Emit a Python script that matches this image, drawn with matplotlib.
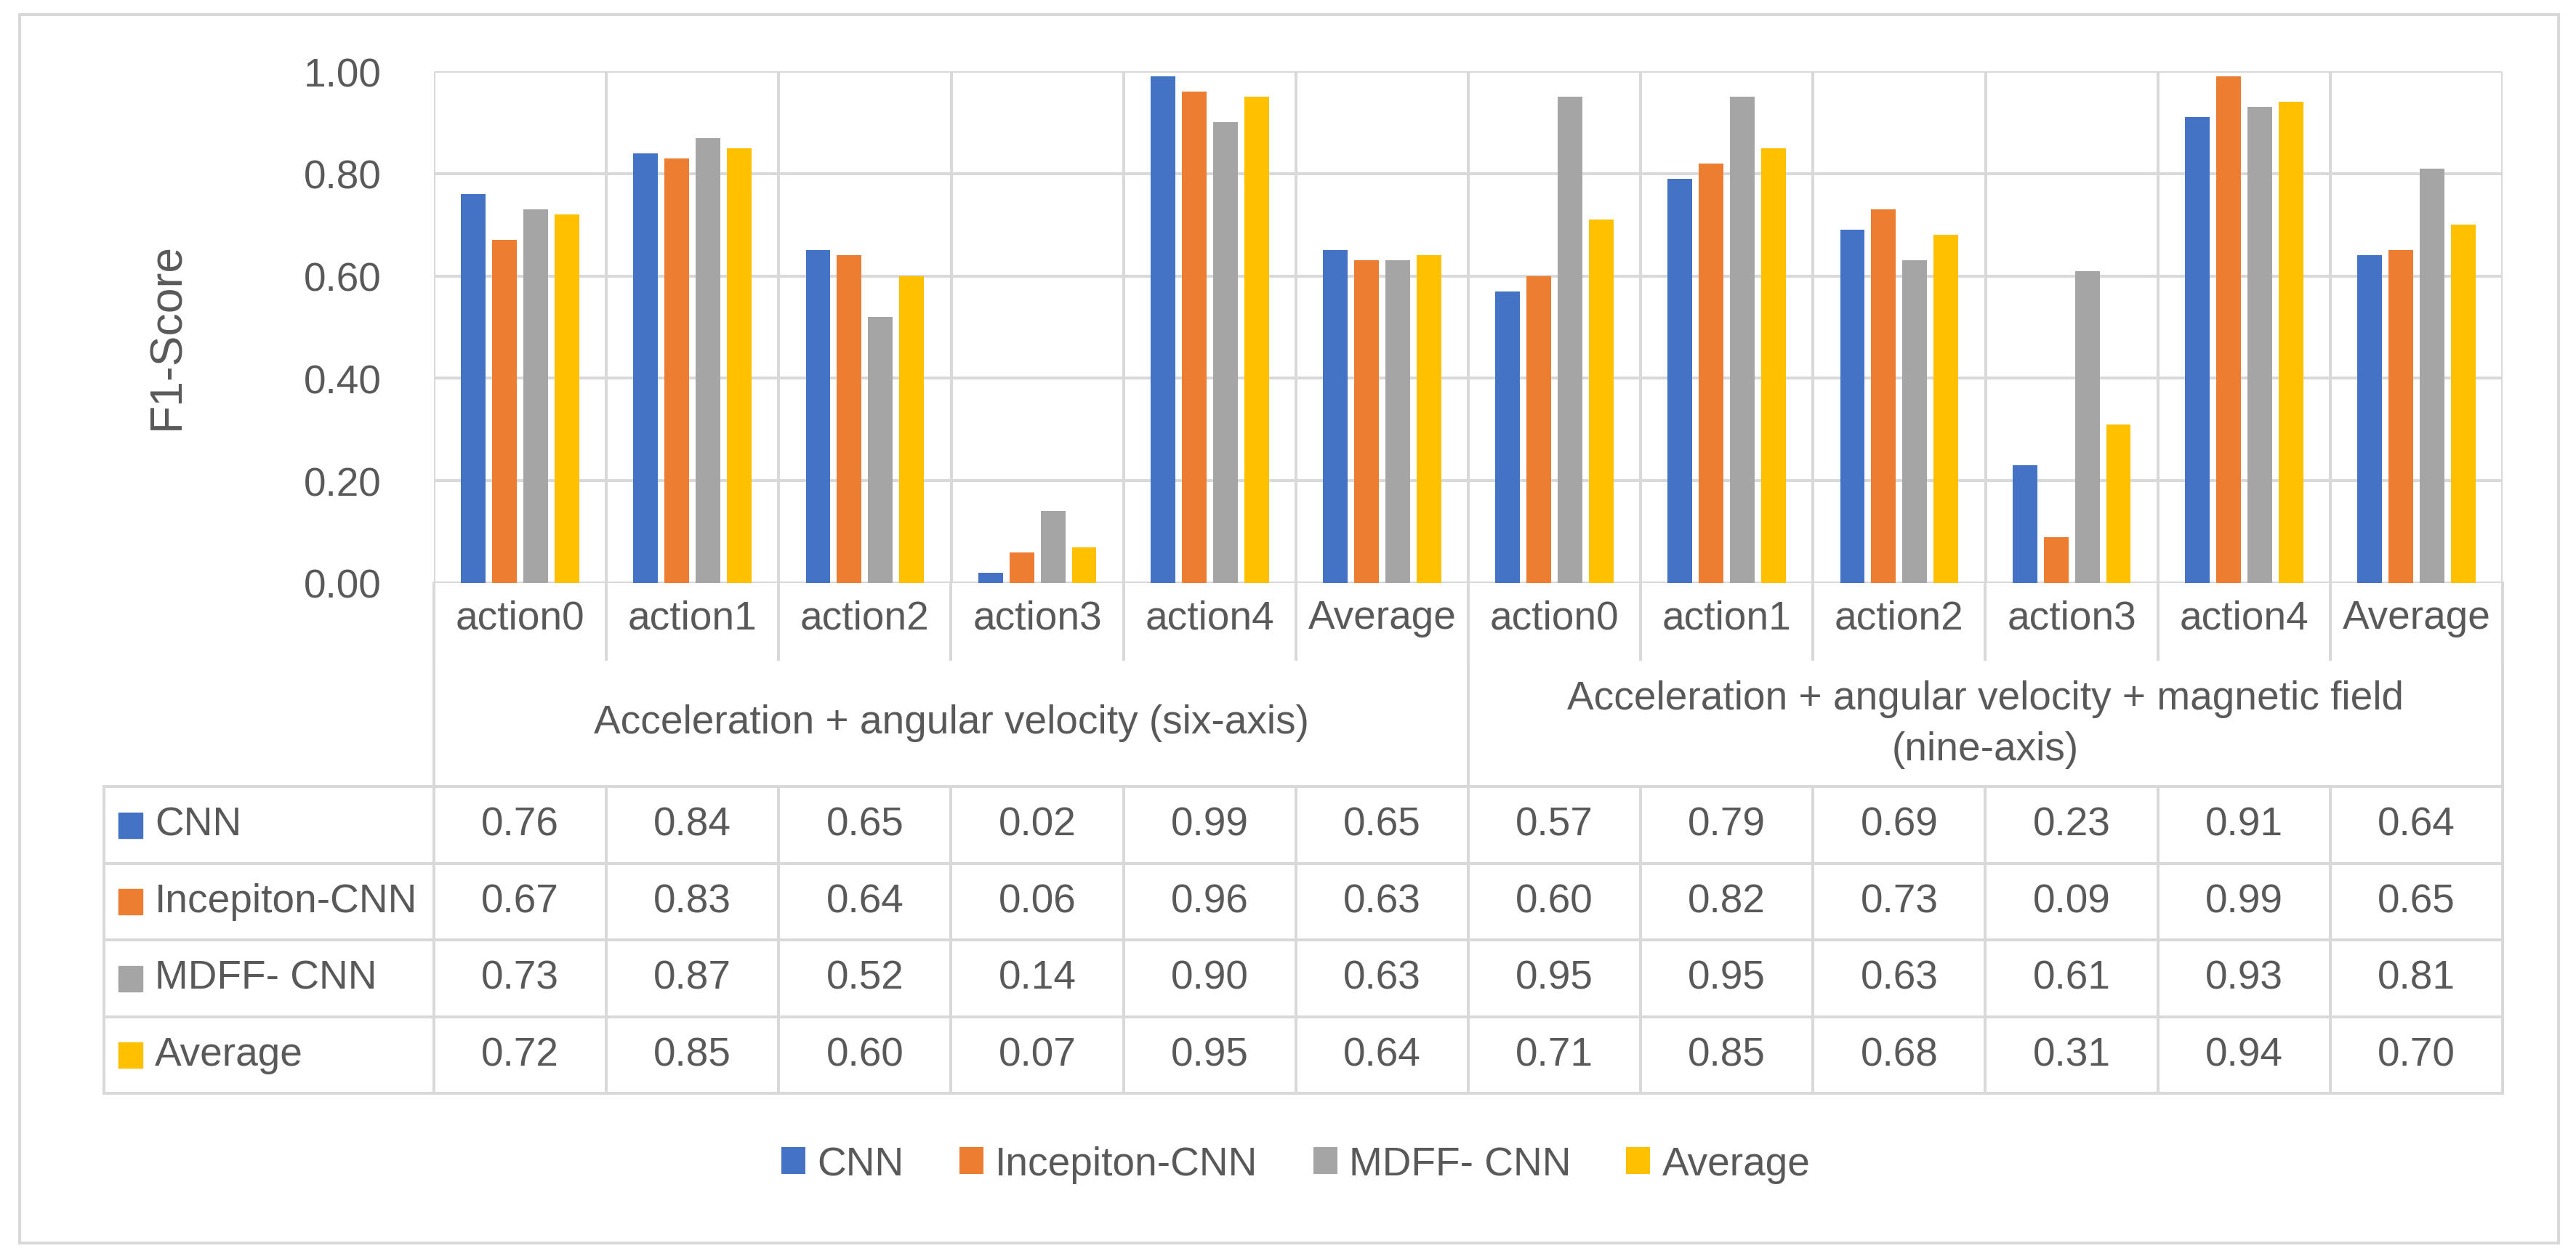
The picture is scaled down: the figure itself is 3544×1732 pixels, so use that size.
import numpy as np
import matplotlib
matplotlib.use("Agg")
import matplotlib.pyplot as plt
from matplotlib.patches import Rectangle

plt.rcParams['font.family'] = ['Liberation Sans', 'DejaVu Sans']

# data
categories = ['action0', 'action1', 'action2', 'action3', 'action4', 'Average',
              'action0', 'action1', 'action2', 'action3', 'action4', 'Average']
groups = ['Acceleration + angular velocity (six-axis)',
          'Acceleration + angular velocity + magnetic field\n(nine-axis)']
models = ['CNN', 'Incepiton-CNN', 'MDFF- CNN', 'Average']
cnn = [0.76, 0.84, 0.65, 0.02, 0.99, 0.65, 0.57, 0.79, 0.69, 0.23, 0.91, 0.64]
inception = [0.67, 0.83, 0.64, 0.06, 0.96, 0.63, 0.60, 0.82, 0.73, 0.09, 0.99, 0.65]
mdff = [0.73, 0.87, 0.52, 0.14, 0.90, 0.63, 0.95, 0.95, 0.63, 0.61, 0.93, 0.81]
average = [0.72, 0.85, 0.60, 0.07, 0.95, 0.64, 0.71, 0.85, 0.68, 0.31, 0.94, 0.70]
series = [cnn, inception, mdff, average]
colors = ['#4472C4', '#ED7D31', '#A5A5A5', '#FFC000']

grid_c = '#D9D9D9'
text_c = '#595959'
fs = 39.6
lw = 2.9

# layout in pixels
W, H = 3544, 1733
PL, PR, PT, PB = 597, 3443, 99, 803
cat_w = (PR - PL) / 12
lab_bottom = 908
tab_top = 1083
row_h = 105.5
tab_left = 143

fig = plt.figure(figsize=(W / 100, H / 100), dpi=100)

# overlay for table / frame
ov = fig.add_axes([0, 0, 1, 1], zorder=0)
ov.set_xlim(0, W)
ov.set_ylim(H, 0)
ov.axis('off')

ax = fig.add_axes([PL / W, 1 - PB / H, (PR - PL) / W, (PB - PT) / H], zorder=1)
ax.patch.set_alpha(0)

x = np.arange(len(categories))
step = 0.181
bw = 0.143
bars = []
for k in range(4):
    b = ax.bar(x + (k - 1.5) * step, series[k], bw, color=colors[k],
               label=models[k], zorder=3)
    bars.append(b)

ax.set_xlim(-0.5, len(categories) - 0.5)
ax.set_ylim(0, 1.0)
ax.set_yticks(np.arange(0, 1.01, 0.2))
ax.set_yticklabels(['%.2f' % v for v in np.arange(0, 1.01, 0.2)])
ax.tick_params(axis='y', length=0, pad=52, labelsize=fs, labelcolor=text_c)
ax.tick_params(axis='x', length=0, labelbottom=False)
for s in ax.spines.values():
    s.set_visible(False)
for v in np.arange(0, 1.01, 0.2):
    ax.axhline(v, color=grid_c, lw=lw, zorder=1)
for b in np.arange(-0.5, len(categories), 1):
    ax.axvline(b, color=grid_c, lw=lw, zorder=1)

ax.set_ylabel('F1-Score', fontsize=45, color=text_c)
ax.yaxis.set_label_coords(-0.129, 0.484)
ax.yaxis.label.set_va('center')

# outer frame
ov.add_patch(Rectangle((27, 21), 3520 - 27, 1711 - 21, fill=False,
                       edgecolor=grid_c, lw=lw))

# category label row
for i in range(len(categories) + 1):
    xb = PL + i * cat_w
    ov.plot([xb, xb], [PB, lab_bottom], color=grid_c, lw=lw)
for i, c in enumerate(categories):
    ov.text(PL + (i + 0.5) * cat_w, 851, c, ha='center', va='center',
            fontsize=fs, color=text_c)

# group row
for i in [0, 6, 12]:
    xb = PL + i * cat_w
    ov.plot([xb, xb], [PB, tab_top], color=grid_c, lw=lw)
ov.text(PL + 3 * cat_w, 995, groups[0], ha='center', va='center',
        fontsize=fs, color=text_c)
ov.text(PL + 9 * cat_w, 997, groups[1], ha='center', va='center',
        fontsize=fs, color=text_c, linespacing=1.45, multialignment='center')

# data table
tab_bottom = tab_top + 4 * row_h
for r in range(5):
    yy = tab_top + r * row_h
    ov.plot([tab_left, PR], [yy, yy], color=grid_c, lw=lw)
ov.plot([tab_left, tab_left], [tab_top, tab_bottom], color=grid_c, lw=lw)
for i in range(len(categories) + 1):
    xb = PL + i * cat_w
    ov.plot([xb, xb], [tab_top, tab_bottom], color=grid_c, lw=lw)
for r in range(4):
    yc = tab_top + (r + 0.5) * row_h
    ov.add_patch(Rectangle((163, yc - 17), 33, 35, color=colors[r]))
    ov.text(213, yc, models[r], ha='left', va='center', fontsize=fs, color=text_c)
    for i, v in enumerate(series[r]):
        ov.text(PL + (i + 0.5) * cat_w, yc, '%.2f' % v, ha='center',
                va='center', fontsize=fs, color=text_c)

# bottom legend
fig.legend(handles=bars, labels=models, loc='center', ncol=4,
           bbox_to_anchor=(1783 / W, 1 - 1603 / H), frameon=False,
           fontsize=fs, labelcolor=text_c, handlelength=0.6, handleheight=0.67,
           handletextpad=0.3, columnspacing=1.38)

fig.savefig('out.png', dpi=100, facecolor='white')
